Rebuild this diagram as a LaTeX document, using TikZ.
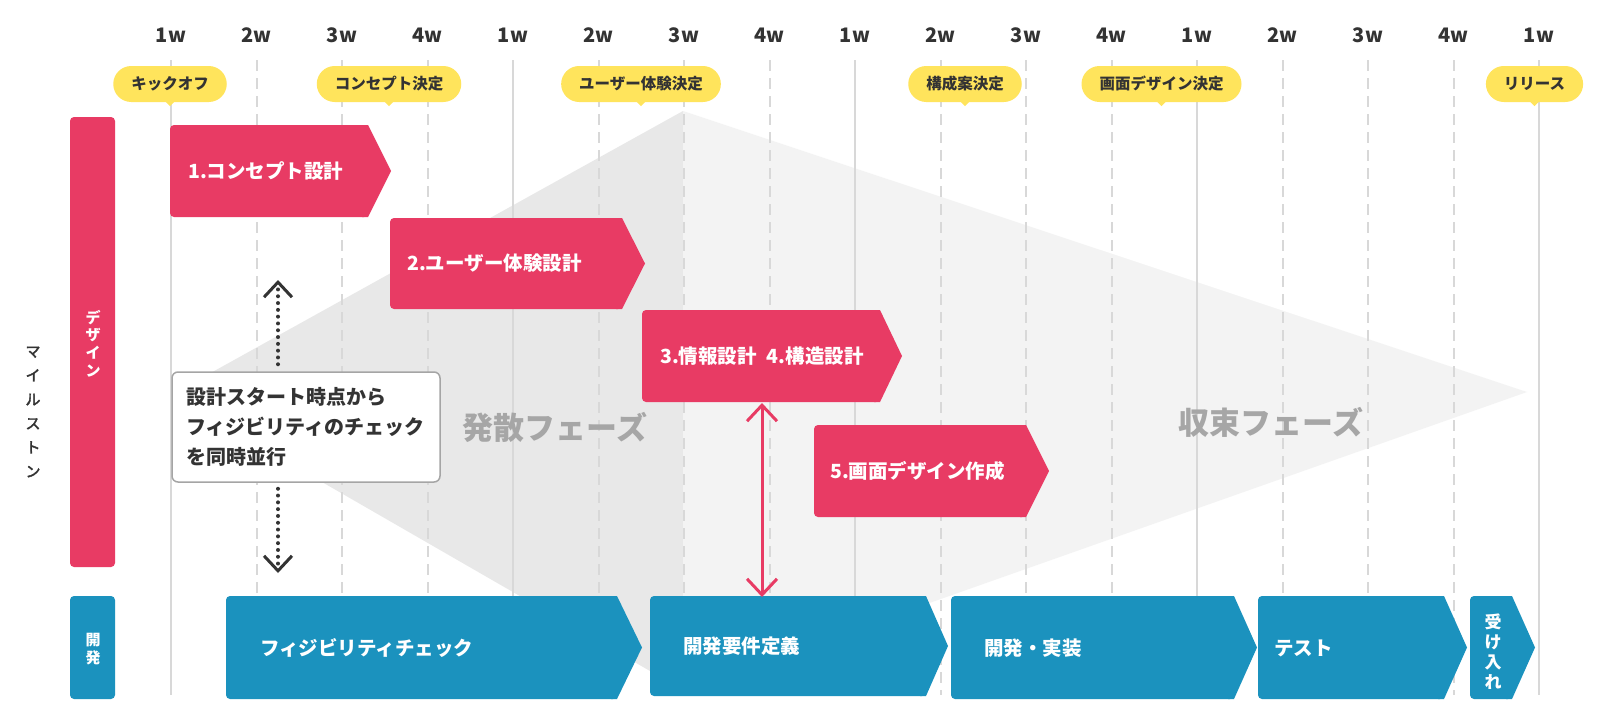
\documentclass[tikz,border=0pt]{standalone}
\usepackage{fontspec}
\setmainfont{Noto Sans CJK JP}
\newfontfamily\jpmed{Noto Sans CJK JP}[RawFeature={embolden=2.5}]
\usetikzlibrary{arrows.meta}
\definecolor{pk}{HTML}{E83B64}
\definecolor{bl}{HTML}{1B92BE}
\definecolor{yel}{HTML}{FFE45C}
\definecolor{gdark}{HTML}{E8E8E8}
\definecolor{glight}{HTML}{F3F3F3}
\definecolor{gridc}{HTML}{D8D8D8}
\definecolor{tdark}{HTML}{333333}
\definecolor{phasec}{HTML}{A6A6A6}
\definecolor{noteb}{HTML}{A5A5A5}
\newcommand\chevbox[6]{%
  \fill[#1, rounded corners=4] (#2,#5) rectangle (#3,#6);
  \fill[#1] ({#3-6},#5) -- (#3,#5) -- (#4,{(#5+#6)/2}) -- (#3,#6) -- ({#3-6},#6) -- cycle;}
\begin{document}
\begin{tikzpicture}[x=1pt,y=-1pt,
  hdr/.style={inner sep=0pt, text height=17.6pt, text depth=2.4pt, font=\bfseries\fontsize{20}{20}\selectfont, text=tdark},
  ms/.style={fill=yel, rounded corners=18, minimum height=36, inner xsep=18, inner ysep=0pt,
     text height=13.64pt, text depth=1.86pt, font=\bfseries\fontsize{15.5}{15.5}\selectfont, text=tdark},
  btxt/.style={inner sep=0pt, text height=17.16pt, text depth=2.34pt, anchor=west, font=\bfseries\fontsize{19.5}{19.5}\selectfont, text=white},
  vtxt/.style={inner sep=0pt, align=center, text=white},
  gridsolid/.style={draw=gridc, line width=2},
  griddash/.style={draw=gridc, line width=2, dash pattern=on 11pt off 7pt},
  phase/.style={inner sep=0pt, text height=27.28pt, text depth=3.72pt, font=\bfseries\fontsize{31}{31}\selectfont, text=phasec},
  dotl/.style={draw=tdark, line width=4, line cap=round, dash pattern=on 0pt off 6.8pt},
  barb/.style={-{Straight Barb[length=15pt, width=28pt, line width=3pt]}},
  pkarrow/.style={draw=pk, line width=3, {Straight Barb[length=16pt, width=30pt, line width=3pt]}-{Straight Barb[length=16pt, width=30pt, line width=3pt]}}
]
\useasboundingbox (0,0) rectangle (1598,720);
\fill[white] (0,0) rectangle (1598,720);
% phase triangles
\fill[gdark] (683,111) -- (171,395) -- (683,690) -- cycle;
\fill[glight] (683,111) -- (1527,392) -- (683,690) -- cycle;
% grid
\foreach \i in {0,4,8,12,16} \draw[gridsolid] ({171+85.5*\i},60) -- ({171+85.5*\i},695);
\foreach \i in {1,2,3,5,6,7,9,10,11,13,14,15} \draw[griddash] ({171+85.5*\i},60) -- ({171+85.5*\i},695);
% header
\foreach \i [evaluate=\i as \wk using {int(mod(\i,4)+1)}] in {0,...,16}
  \node[hdr] (h\i) at ({171+85.5*\i},35) {\wk w};
% phase labels
\node[phase] (ph1) at (555,428) {発散フェーズ};
\node[phase] (ph2) at (1271,423) {収束フェーズ};
% milestones
\foreach \n/\x/\t in {1/170/キックオフ, 2/389/コンセプト決定, 3/641/ユーザー体験決定, 4/965/構成案決定, 5/1161.5/画面デザイン決定, 6/1534.5/リリース}{
  \node[ms] (m\n) at (\x,84) {\t};
  \fill[yel] ([xshift=-5pt,yshift=1pt]m\n.south) -- ++(5,5) -- ++(5,-5) -- cycle;
}
% side labels
\node[inner sep=0pt, align=center, text=tdark, font=\jpmed\fontsize{15}{24}\selectfont] (msl) at (33,412) {マ\\イ\\ル\\ス\\ト\\ン};
\node[fill=pk, rounded corners=4, minimum width=45, minimum height=450, inner sep=0pt] (dbar) at (92.5,342) {};
\node[vtxt, font=\bfseries\fontsize{15}{17.7}\selectfont] (dbart) at (93,343.5) {デ\\ザ\\イ\\ン};
\node[fill=bl, rounded corners=4, minimum width=45, minimum height=103, inner sep=0pt] (vbar) at (92.5,647.5) {};
\node[vtxt, font=\bfseries\fontsize{15}{18}\selectfont] (vbart) at (93,649) {開\\発};
% design boxes
\chevbox{pk}{170}{368}{391}{125}{217}
\node[btxt] (b1) at (188,171) {1.コンセプト設計};
\chevbox{pk}{390}{622}{645}{218}{309}
\node[btxt] (b2) at (407,263.5) {2.ユーザー体験設計};
\chevbox{pk}{642}{880}{902}{310}{402}
\node[btxt] (b3) at (660,356) {3.情報設計\hspace{10pt}4.構造設計};
\chevbox{pk}{814}{1026}{1049}{425}{517}
\node[btxt] (b5) at (830,471) {5.画面デザイン作成};
% dev boxes
\chevbox{bl}{226}{617}{642}{596}{699}
\node[btxt] (d1) at (260,648) {フィジビリティチェック};
\chevbox{bl}{650}{926}{948}{596}{696}
\node[btxt] (d2) at (683,646) {開発要件定義};
\chevbox{bl}{951}{1234}{1257}{596}{699}
\node[btxt] (d3) at (984,648) {開発・実装};
\chevbox{bl}{1258}{1444}{1467}{596}{699}
\node[btxt] (d4) at (1274,648) {テスト};
\chevbox{bl}{1470}{1512}{1535}{596}{699}
\node[vtxt, font=\bfseries\fontsize{17}{20}\selectfont] (d5) at (1493,652) {受\\け\\入\\れ};
% note
\node[draw=noteb, line width=1.5, fill=white, rounded corners=6, minimum width=268, minimum height=110,
      inner xsep=14pt, inner ysep=0pt, text width=240, align=left, text=tdark,
      font=\bfseries\fontsize{20}{30}\selectfont] (note) at (306,427)
  {設計スタート時点から\\フィジビリティのチェック\\を同時並行};
\coordinate (uptip) at (278,280);
\coordinate (dntip) at (278,573);
\draw[dotl, barb] ([yshift=7pt]note.north -| uptip) -- (uptip);
\draw[dotl, barb] ([yshift=-6pt]note.south -| dntip) -- (dntip);
% pink double arrow
\coordinate (b3s) at (762,403);
\coordinate (d2n) at (762,597);
\draw[pkarrow] (b3s) -- (d2n);
\end{tikzpicture}
\end{document}
